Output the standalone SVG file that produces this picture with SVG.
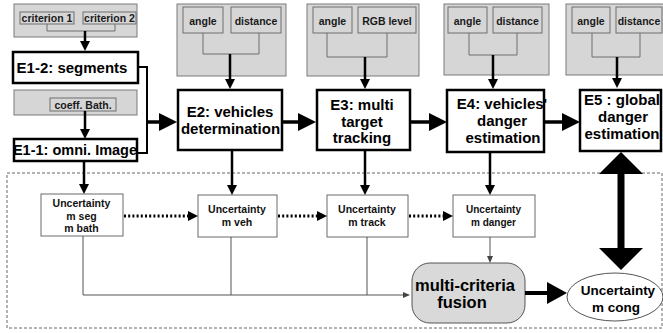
<svg xmlns="http://www.w3.org/2000/svg" width="663" height="333" viewBox="0 0 663 333">
  <style>
    text { font-family: "Liberation Sans", Arial, Helvetica, sans-serif; font-weight: bold; text-anchor: middle; fill: #000; }
    .param { fill: #d6d6d6; stroke: #7a7a7a; stroke-width: 1; }
    .chip { fill: #d6d6d6; stroke: #6f6f6f; stroke-width: 1; }
    .chipt { font-size: 10.5px; fill: #1a1a1a; }
    .brk { fill: none; stroke: #6f6f6f; stroke-width: 1; }
    .stage { fill: #fff; stroke: #000; stroke-width: 2.5; }
    .stt { font-size: 15px; }
    .unc { fill: #fff; stroke: #6a6a6a; stroke-width: 1; }
    .unct { font-size: 10.5px; fill: #111; }
    .feed { fill: none; stroke: #000; stroke-width: 2.5; }
    .main { fill: none; stroke: #000; stroke-width: 3.5; }
    .dots { fill: none; stroke: #000; stroke-width: 3; stroke-dasharray: 2 2.2; }
    .thin { fill: none; stroke: #555; stroke-width: 1; }
    .frame { fill: none; stroke: #666; stroke-width: 1; stroke-dasharray: 3 2; }
  </style>
  <defs>
    <marker id="ah-big" markerUnits="userSpaceOnUse" markerWidth="18" markerHeight="18" refX="1" refY="9" orient="auto">
      <path d="M0,0 L18,9 L0,18 Z" fill="#000"/>
    </marker>
    <marker id="ah-down" markerUnits="userSpaceOnUse" markerWidth="10" markerHeight="10" refX="1" refY="5" orient="auto">
      <path d="M0,0 L10,5 L0,10 Z" fill="#000"/>
    </marker>
    <marker id="ah-dot" markerUnits="userSpaceOnUse" markerWidth="10" markerHeight="10" refX="1" refY="5" orient="auto">
      <path d="M0,0 L10,5 L0,10 Z" fill="#000"/>
    </marker>
    <marker id="ah-thin" markerUnits="userSpaceOnUse" markerWidth="7" markerHeight="6" refX="1" refY="3" orient="auto">
      <path d="M0,0 L7,3 L0,6 Z" fill="#444"/>
    </marker>
    <marker id="ah-fat" markerUnits="userSpaceOnUse" markerWidth="20" markerHeight="22" refX="1" refY="11" orient="auto">
      <path d="M0,0 L20,11 L0,22 Z" fill="#000"/>
    </marker>
    <marker id="ah-huge" markerUnits="userSpaceOnUse" markerWidth="22" markerHeight="44" refX="1" refY="22" orient="auto-start-reverse">
      <path d="M0,0 L22,22 L0,44 Z" fill="#000"/>
    </marker>
  </defs>

  <rect width="663" height="333" fill="#fff"/>

  <!-- uncertainty layer frame -->
  <rect class="frame" x="7" y="173" width="655" height="155"/>

  <!-- parameter panels -->
  <g id="params-e12">
    <rect class="param" x="14" y="4" width="123" height="33"/>
    <rect class="chip" x="20" y="12" width="54" height="12"/>
    <rect class="chip" x="83" y="12" width="53" height="12"/>
    <text class="chipt" x="47" y="21.5">criterion 1</text>
    <text class="chipt" x="109.5" y="21.5">criterion 2</text>
    <polyline class="brk" points="47,24 47,31 115,31 115,24"/>
  </g>
  <g id="params-e11">
    <rect class="param" x="14" y="90" width="123" height="25"/>
    <rect class="chip" x="50" y="98" width="66" height="13"/>
    <text class="chipt" x="83" y="108.5">coeff. Bath.</text>
  </g>
  <g id="params-e2">
    <rect class="param" x="177" y="4" width="109" height="72"/>
    <rect class="chip" x="183" y="7" width="40" height="26"/>
    <rect class="chip" x="231" y="7" width="50" height="26"/>
    <text class="chipt" x="203" y="24.5">angle</text>
    <text class="chipt" x="256" y="24.5">distance</text>
    <polyline class="brk" points="203,33 203,54 259,54 259,33"/>
  </g>
  <g id="params-e3">
    <rect class="param" x="307" y="4" width="112" height="72"/>
    <rect class="chip" x="313" y="7" width="39" height="26"/>
    <rect class="chip" x="358" y="7" width="58" height="26"/>
    <text class="chipt" x="332.5" y="24.5">angle</text>
    <text class="chipt" x="387" y="24.5">RGB level</text>
    <polyline class="brk" points="327,33 327,57 387,57 387,33"/>
  </g>
  <g id="params-e4">
    <rect class="param" x="444" y="4" width="105" height="71"/>
    <rect class="chip" x="448" y="7" width="39" height="26"/>
    <rect class="chip" x="493" y="7" width="49" height="26"/>
    <text class="chipt" x="467.5" y="24.5">angle</text>
    <text class="chipt" x="517.5" y="24.5">distance</text>
    <polyline class="brk" points="469,33 469,55 517,55 517,33"/>
  </g>
  <g id="params-e5">
    <rect class="param" x="566" y="4" width="98" height="71"/>
    <rect class="chip" x="572" y="7" width="38" height="26"/>
    <rect class="chip" x="616" y="7" width="46" height="26"/>
    <text class="chipt" x="591" y="24.5">angle</text>
    <text class="chipt" x="639" y="24.5">distance</text>
    <polyline class="brk" points="592,33 592,57 640,57 640,33"/>
  </g>

  <!-- processing stages -->
  <g id="e12">
    <rect class="stage" x="13" y="52" width="125" height="31"/>
    <text class="stt" x="72" y="72.5">E1-2: segments</text>
  </g>
  <g id="e11">
    <rect class="stage" x="14" y="139" width="123" height="22"/>
    <text class="stt" x="75" y="155" style="font-size:14.5px">E1-1: omni. Image</text>
  </g>
  <g id="e2">
    <rect class="stage" x="178" y="90" width="104" height="60"/>
    <text class="stt" x="230" y="117">E2: vehicles</text>
    <text class="stt" x="230.5" y="133.5">determination</text>
  </g>
  <g id="e3">
    <rect class="stage" x="317" y="90" width="93" height="60"/>
    <text class="stt" x="362" y="110">E3: multi</text>
    <text class="stt" x="362" y="127">target</text>
    <text class="stt" x="362" y="143">tracking</text>
  </g>
  <g id="e4">
    <rect class="stage" x="447" y="90" width="97" height="62"/>
    <text class="stt" x="502" y="108.5">E4: vehicles'</text>
    <text class="stt" x="502" y="126">danger</text>
    <text class="stt" x="503" y="143">estimation</text>
  </g>
  <g id="e5">
    <rect class="stage" x="580" y="90" width="81" height="61"/>
    <text class="stt" x="622" y="105">E5 : global</text>
    <text class="stt" x="623" y="122">danger</text>
    <text class="stt" x="622" y="139">estimation</text>
  </g>

  <!-- uncertainty measures -->
  <g id="u1">
    <rect class="unc" x="41" y="194" width="82" height="42"/>
    <text class="unct" x="81.5" y="207">Uncertainty</text>
    <text class="unct" x="81.5" y="220">m seg</text>
    <text class="unct" x="81.5" y="232">m bath</text>
  </g>
  <g id="u2">
    <rect class="unc" x="198" y="195" width="79" height="42"/>
    <text class="unct" x="237" y="213">Uncertainty</text>
    <text class="unct" x="237" y="226">m veh</text>
  </g>
  <g id="u3">
    <rect class="unc" x="327" y="195" width="81" height="42"/>
    <text class="unct" x="367" y="213">Uncertainty</text>
    <text class="unct" x="367" y="226">m track</text>
  </g>
  <g id="u4">
    <rect class="unc" x="453" y="195" width="82" height="42"/>
    <text class="unct" x="493.5" y="213" style="font-size:10px">Uncertainty</text>
    <text class="unct" x="493.5" y="226" style="font-size:10px">m danger</text>
  </g>
  <g id="fusion">
    <rect x="412" y="263" width="113" height="60" rx="18" ry="18" fill="#d9d9d9" stroke="#555" stroke-width="1"/>
    <text x="465" y="291" style="font-size:16.5px">multi-criteria</text>
    <text x="462" y="308" style="font-size:16.5px">fusion</text>
  </g>
  <g id="u-cong">
    <ellipse cx="615" cy="297" rx="48" ry="24" fill="#fff" stroke="#555" stroke-width="1"/>
    <text x="618" y="295" style="font-size:13.5px">Uncertainty</text>
    <text x="616" y="312" style="font-size:13.5px">m cong</text>
  </g>

  <!-- connectors -->
  <g id="connectors">
    <!-- parameter feeds -->
    <line class="feed" x1="85" y1="31" x2="85" y2="42" marker-end="url(#ah-down)"/>
    <line class="feed" x1="85" y1="111" x2="85" y2="130" marker-end="url(#ah-down)"/>
    <line class="feed" x1="230" y1="54" x2="230" y2="80" marker-end="url(#ah-down)"/>
    <line class="feed" x1="365" y1="57" x2="365" y2="80" marker-end="url(#ah-down)"/>
    <line class="feed" x1="493" y1="55" x2="493" y2="80" marker-end="url(#ah-down)"/>
    <line class="feed" x1="617" y1="57" x2="617" y2="79" marker-end="url(#ah-down)"/>

    <!-- E1 bracket and stage chain -->
    <polyline fill="none" stroke="#000" stroke-width="2" points="138,67 147,67 147,153 138,153"/>
    <line class="main" x1="147" y1="122" x2="160" y2="122" marker-end="url(#ah-big)"/>
    <line class="main" x1="282" y1="122" x2="299" y2="122" marker-end="url(#ah-big)"/>
    <line class="main" x1="410" y1="122" x2="430" y2="122" marker-end="url(#ah-big)"/>
    <line class="main" x1="544" y1="122" x2="563" y2="122" marker-end="url(#ah-big)"/>

    <!-- stages to uncertainty measures -->
    <line class="feed" x1="84" y1="162" x2="84" y2="185" marker-end="url(#ah-down)"/>
    <line class="feed" x1="232" y1="151" x2="232" y2="186" marker-end="url(#ah-down)"/>
    <line class="feed" x1="365" y1="151" x2="365" y2="186" marker-end="url(#ah-down)"/>
    <line class="feed" x1="490" y1="153" x2="490" y2="186" marker-end="url(#ah-down)"/>

    <!-- uncertainty propagation -->
    <line class="dots" x1="124" y1="216" x2="189" y2="216" marker-end="url(#ah-dot)"/>
    <line class="dots" x1="278" y1="216" x2="318" y2="216" marker-end="url(#ah-dot)"/>
    <line class="dots" x1="409" y1="216" x2="444" y2="216" marker-end="url(#ah-dot)"/>

    <!-- measures into fusion -->
    <polyline class="thin" points="83,236 83,295 404,295" marker-end="url(#ah-thin)"/>
    <line class="thin" x1="231" y1="237" x2="231" y2="295"/>
    <line class="thin" x1="367" y1="237" x2="367" y2="295"/>
    <line class="thin" x1="490" y1="237" x2="490" y2="257" marker-end="url(#ah-thin)"/>

    <!-- fusion to global uncertainty -->
    <line stroke="#000" stroke-width="4" x1="525" y1="293" x2="548" y2="293" marker-end="url(#ah-fat)"/>

    <!-- E5 and global uncertainty -->
    <line stroke="#000" stroke-width="7" x1="621" y1="173" x2="621" y2="249" marker-start="url(#ah-huge)" marker-end="url(#ah-huge)"/>
  </g>
</svg>
